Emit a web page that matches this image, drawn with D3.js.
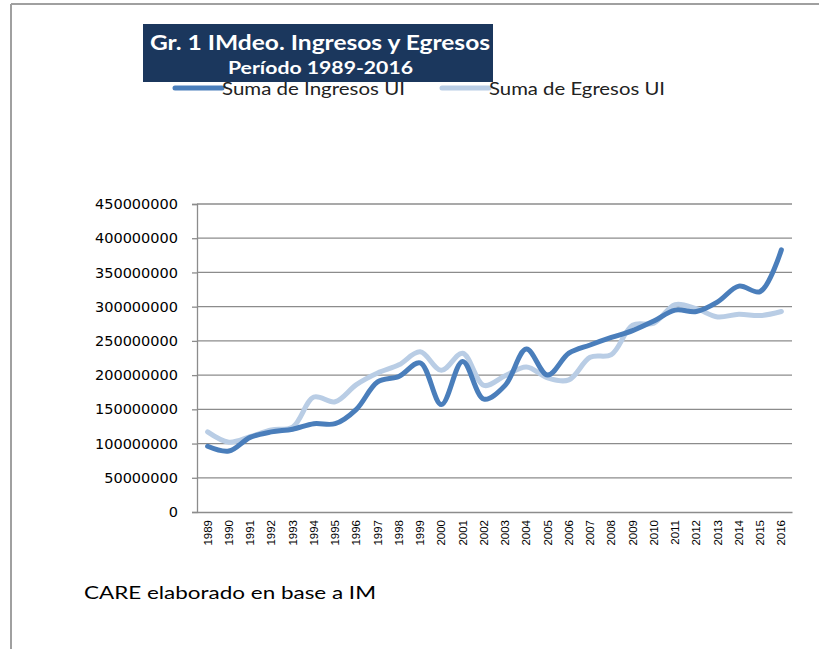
<!DOCTYPE html>
<html>
<head>
<meta charset="utf-8">
<script src="https://cdn.jsdelivr.net/npm/d3@7"></script>
<style>
  body { margin: 0; background: #fff; }
  svg { display: block; }
</style>
</head>
<body>
<div id="chart"></div>
<script>
// values (Unidades Indexadas)
const years = ["1989","1990","1991","1992","1993","1994","1995","1996","1997","1998",
  "1999","2000","2001","2002","2003","2004","2005","2006","2007","2008",
  "2009","2010","2011","2012","2013","2014","2015","2016"];

const ingresos = [96e6, 89e6, 109e6, 117e6, 121e6, 129e6, 129e6, 150e6, 190e6, 198e6,
  218e6, 157e6, 220e6, 165e6, 185e6, 238e6, 200e6, 232e6, 244e6, 255e6,
  265e6, 279e6, 295e6, 293e6, 307e6, 330e6, 322e6, 383e6];

const egresos = [117e6, 102e6, 110e6, 120e6, 124e6, 168e6, 161e6, 186e6, 203e6, 215e6,
  234e6, 207e6, 232e6, 185e6, 199e6, 212e6, 196e6, 193e6, 226e6, 230e6,
  273e6, 276e6, 303e6, 297e6, 285e6, 289e6, 287e6, 293e6];

const yTicks = [0, 50e6, 100e6, 150e6, 200e6, 250e6, 300e6, 350e6, 400e6, 450e6];

const seriesNames = ["Suma de Ingresos UI", "Suma de Egresos UI"];
const seriesColors = ["#4a7ebb", "#b9cde5"];

const W = 819, H = 649;
const svg = d3.select("#chart").append("svg").attr("width", W).attr("height", H);

// outer frame (top and left edges only are visible)
svg.append("line").attr("x1", 11).attr("x2", W).attr("y1", 4).attr("y2", 4)
  .attr("stroke", "#a0a0a0").attr("stroke-width", 2);
svg.append("line").attr("x1", 11).attr("x2", 11).attr("y1", 4).attr("y2", H)
  .attr("stroke", "#a0a0a0").attr("stroke-width", 2);

const plot = { left: 197, right: 792, top: 204, bottom: 512 };

const x = d3.scaleBand().domain(years).range([plot.left, plot.right]);
const y = d3.scaleLinear().domain([0, 450e6]).range([plot.bottom, plot.top]);

// gridlines
svg.append("g")
  .selectAll("line")
  .data(yTicks.filter((d) => d > 0))
  .enter()
  .append("line")
  .attr("x1", plot.left)
  .attr("x2", plot.right)
  .attr("y1", (d) => y(d))
  .attr("y2", (d) => y(d))
  .attr("stroke", "#8c8c8c")
  .attr("stroke-width", 1.3);

// y axis
const yAxis = svg.append("g")
  .attr("transform", `translate(${plot.left},0)`)
  .call(d3.axisLeft(y).tickValues(yTicks).tickSize(5).tickPadding(14).tickFormat(d3.format("d")));
yAxis.select(".domain").attr("stroke", "#8c8c8c").attr("stroke-width", 1.3);
yAxis.selectAll(".tick line").attr("stroke", "#8c8c8c").attr("stroke-width", 1.3);
yAxis.selectAll("text")
  .attr("font-family", "DejaVu Sans, sans-serif")
  .attr("font-size", 14.5)
  .attr("fill", "#000");

// x axis
const xAxis = svg.append("g")
  .attr("transform", `translate(0,${plot.bottom})`)
  .call(d3.axisBottom(x).tickSize(0).tickPadding(0));
xAxis.select(".domain").attr("stroke", "#8c8c8c").attr("stroke-width", 1.6);
xAxis.selectAll("text")
  .attr("font-family", "Liberation Sans, Arial, sans-serif")
  .attr("font-size", 11.5)
  .attr("fill", "#000")
  .attr("text-anchor", "end")
  .attr("dy", "0.35em")
  .attr("transform", "translate(0,8) rotate(-90)")
  .attr("x", 0)
  .attr("y", 0);

// lines
const line = d3.line()
  .x((d, i) => x(years[i]) + x.bandwidth() / 2)
  .y((d) => y(d))
  .curve(d3.curveCatmullRom.alpha(0.5));

svg.append("path")
  .datum(egresos)
  .attr("fill", "none")
  .attr("stroke", seriesColors[1])
  .attr("stroke-width", 5)
  .attr("stroke-linecap", "round")
  .attr("d", line);

svg.append("path")
  .datum(ingresos)
  .attr("fill", "none")
  .attr("stroke", seriesColors[0])
  .attr("stroke-width", 5)
  .attr("stroke-linecap", "round")
  .attr("d", line);

// legend
const legend = [
  { name: seriesNames[0], color: seriesColors[0], x1: 175, x2: 222, tx: 222, tw: 183 },
  { name: seriesNames[1], color: seriesColors[1], x1: 442, x2: 489, tx: 489, tw: 176 },
];
const lg = svg.append("g");
legend.forEach((l) => {
  lg.append("line")
    .attr("x1", l.x1).attr("x2", l.x2).attr("y1", 88).attr("y2", 88)
    .attr("stroke", l.color).attr("stroke-width", 5).attr("stroke-linecap", "round");
  lg.append("text")
    .attr("x", l.tx).attr("y", 95)
    .attr("font-family", "Lato, sans-serif")
    .attr("font-size", 16.5)
    .attr("fill", "#222")
    .attr("textLength", l.tw)
    .attr("lengthAdjust", "spacingAndGlyphs")
    .text(l.name);
});

// title box (drawn over the legend top as in the reference)
svg.append("rect")
  .attr("x", 143).attr("y", 24).attr("width", 350).attr("height", 58)
  .attr("fill", "#1b375d");
svg.append("text")
  .attr("x", 150).attr("y", 50)
  .attr("font-family", "Lato, sans-serif")
  .attr("font-weight", "bold")
  .attr("font-size", 21)
  .attr("fill", "#fff")
  .attr("textLength", 340)
  .attr("lengthAdjust", "spacingAndGlyphs")
  .text("Gr. 1 IMdeo. Ingresos y Egresos");
svg.append("text")
  .attr("x", 228).attr("y", 74)
  .attr("font-family", "Lato, sans-serif")
  .attr("font-weight", "bold")
  .attr("font-size", 16.5)
  .attr("fill", "#fff")
  .attr("textLength", 185)
  .attr("lengthAdjust", "spacingAndGlyphs")
  .text("Período 1989-2016");

// source note
svg.append("text")
  .attr("x", 84).attr("y", 599)
  .attr("font-family", "Lato, sans-serif")
  .attr("font-size", 18)
  .attr("fill", "#000")
  .attr("textLength", 292)
  .attr("lengthAdjust", "spacingAndGlyphs")
  .text("CARE elaborado en base a IM");
</script>
</body>
</html>
